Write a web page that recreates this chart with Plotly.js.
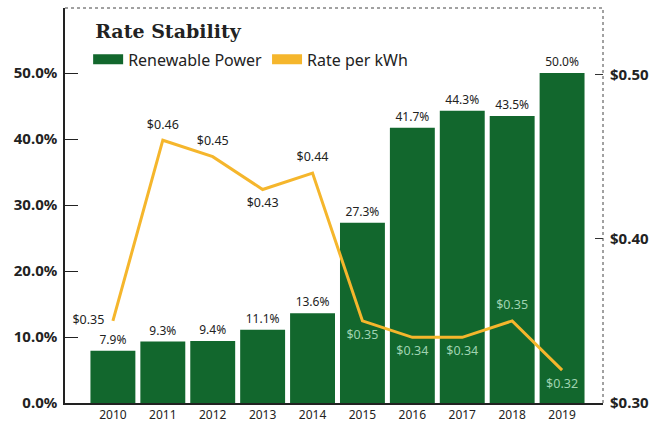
<!DOCTYPE html>
<html>
<head>
<meta charset="utf-8">
<script src="https://cdn.plot.ly/plotly-3.0.1.min.js"></script>
<style>html,body{margin:0;padding:0;background:#fff;}#chart{width:651px;height:423px;}</style>
</head>
<body>
<div id="chart"></div>
<script>
const years = ['2010','2011','2012','2013','2014','2015','2016','2017','2018','2019'];
const renewablePct = [7.9, 9.3, 9.4, 11.1, 13.6, 27.3, 41.7, 44.3, 43.5, 50.0];
const ratePerKwh = [0.35, 0.46, 0.45, 0.43, 0.44, 0.35, 0.34, 0.34, 0.35, 0.32];
const rateLabelPos = ['middle left','top center','top center','bottom center','top center','bottom center','bottom center','bottom center','top center','bottom center'];
const rateLabelColor = ['#222','#222','#222','#222','#222','#9fd3b0','#9fd3b0','#9fd3b0','#9fd3b0','#9fd3b0'];
const leftTicks = [0, 10, 20, 30, 40, 50];
const rightTicks = [0.30, 0.40, 0.50];

const GREEN = '#12672d';
const GOLD = '#f5b62c';

const traces = [
  {
    type: 'bar', x: years, y: renewablePct, name: 'Renewable Power',
    marker: {color: GREEN}, showlegend: false,
    text: renewablePct.map(v => v.toFixed(1) + '%'), textposition: 'outside',
    textfont: {family: 'Noto Sans', size: 12, color: '#222'}, cliponaxis: false,
    hoverinfo: 'skip'
  },
  {
    type: 'scatter', mode: 'lines+markers+text', x: years, y: ratePerKwh, yaxis: 'y2',
    name: 'Rate per kWh', showlegend: false,
    line: {color: GOLD, width: 3},
    marker: {size: 12, opacity: 0, color: GOLD},
    text: ratePerKwh.map(v => '$' + v.toFixed(2)), textposition: rateLabelPos,
    textfont: {family: 'Noto Sans', size: 12.5, color: rateLabelColor}, cliponaxis: false
  },
  {
    type: 'scatter', mode: 'lines', x: [null], y: [null], name: 'Renewable Power',
    line: {color: GREEN, width: 10}
  },
  {
    type: 'scatter', mode: 'lines', x: [null], y: [null], name: 'Rate per kWh',
    line: {color: GOLD, width: 10}
  }
];

const layout = {
  width: 651, height: 423,
  margin: {l: 65, r: 48, t: 8, b: 20},
  paper_bgcolor: '#fff', plot_bgcolor: '#fff',
  bargap: 0.1,
  showlegend: true,
  title: {
    text: 'Rate Stability', x: 0.056, xref: 'paper', xanchor: 'left',
    y: 0.925, yref: 'container', yanchor: 'middle',
    font: {family: 'DejaVu Serif', size: 19, weight: 'bold', color: '#222'}
  },
  legend: {
    orientation: 'h', x: 0.043, xanchor: 'left', y: 0.87, yanchor: 'middle',
    font: {family: 'Noto Sans', size: 16, color: '#222'},
    bgcolor: 'rgba(0,0,0,0)', itemwidth: 30, tracegroupgap: 0
  },
  xaxis: {
    type: 'category', range: [-0.96, 9.82],
    showline: true, linecolor: '#222', linewidth: 1.5,
    ticks: '', showgrid: false, zeroline: false,
    tickfont: {family: 'Noto Sans', size: 12, color: '#222'}
  },
  yaxis: {
    range: [0, 59.85], tickvals: leftTicks, ticktext: leftTicks.map(v => v.toFixed(1) + '%'),
    showline: true, linecolor: '#222', linewidth: 1.5,
    ticks: 'inside', ticklen: 13, tickcolor: '#222', tickwidth: 1.2,
    showgrid: false, zeroline: false, ticklabelstandoff: 3,
    tickfont: {family: 'Noto Sans', size: 15, weight: 'bold', color: '#222'}
  },
  yaxis2: {
    overlaying: 'y', side: 'right', range: [0.30, 0.5405],
    tickvals: rightTicks, ticktext: rightTicks.map(v => '$' + v.toFixed(2)),
    showline: false, ticks: 'inside', ticklen: 8, tickcolor: '#333', tickwidth: 1,
    showgrid: false, zeroline: false, ticklabelstandoff: 6,
    tickfont: {family: 'Noto Sans', size: 15, weight: 'bold', color: '#222'}
  },
  shapes: [
    {type: 'line', xref: 'paper', yref: 'paper', x0: 0, x1: 1, y0: 1, y1: 1,
     line: {color: '#444', width: 1, dash: 'dot'}},
    {type: 'line', xref: 'paper', yref: 'paper', x0: 1, x1: 1, y0: 0, y1: 1,
     line: {color: '#444', width: 1, dash: 'dot'}}
  ]
};

Plotly.newPlot('chart', traces, layout, {displayModeBar: false, responsive: false});
</script>
</body>
</html>
